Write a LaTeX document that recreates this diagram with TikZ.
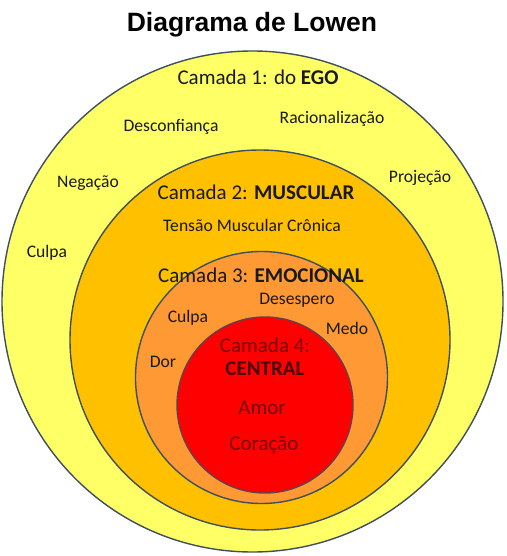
\documentclass[tikz,border=0pt]{standalone}
\usepackage{fontspec}
\setmainfont{Carlito}
\newfontfamily\titlefont{Liberation Sans}
\definecolor{cyel}{HTML}{FFFF66}
\definecolor{corg}{HTML}{FFC000}
\definecolor{cora}{HTML}{FF9933}
\definecolor{cred}{HTML}{FF0000}
\definecolor{cline}{HTML}{3E4F5E}
\definecolor{cdred}{HTML}{780000}
\tikzset{
  ring/.style={draw=cline, line width=1.4pt},
  lbl/.style={font=\fontsize{17.6}{19}\selectfont, text=black!90, inner sep=0pt},
  head/.style={font=\fontsize{21}{23}\selectfont, text=black!90, inner sep=0pt},
  core/.style={font=\fontsize{21}{23}\selectfont, text=cdred, inner sep=0pt}
}
\begin{document}
\begin{tikzpicture}[x=1pt,y=-1pt]
\useasboundingbox[fill=white] (0,0) rectangle (506,556);
\node[font=\titlefont\bfseries\fontsize{26.5}{28}\selectfont, inner sep=0pt] (title) at (252,25) {Diagrama de Lowen};
\node[ring, fill=cyel, circle, minimum size=501pt, inner sep=0pt] (c1) at (252.5,301.5) {};
\node[ring, fill=corg, circle, minimum size=380pt, inner sep=0pt] (c2) at (260,340) {};
\node[ring, fill=cora, circle, minimum size=252pt, inner sep=0pt] (c3) at (261.5,377.5) {};
\node[ring, draw=cline!80!red, fill=cred, circle, minimum size=176pt, inner sep=0pt] (c4) at (265,405) {};
% layer 1
\node[head] (h1) at (258,77) {Camada 1: do \textbf{EGO}};
\node[lbl] (l1a) at (171,127) {Desconfiança};
\node[lbl] (l1b) at (332,119) {Racionalização};
\node[lbl] (l1c) at (88,183) {Negação};
\node[lbl] (l1d) at (420,178) {Projeção};
\node[lbl] (l1e) at (47,253) {Culpa};
% layer 2
\node[head] (h2) at (256,192) {Camada 2: \textbf{MUSCULAR}};
\node[lbl] (l2a) at (252,225) {Tensão Muscular Crônica};
% layer 3
\node[head] (h3) at (261,275) {Camada 3: \textbf{EMOCIONAL}};
\node[lbl] (l3a) at (297,300) {Desespero};
\node[lbl] (l3b) at (188,318) {Culpa};
\node[lbl] (l3c) at (347,328) {Medo};
\node[lbl] (l3d) at (163,362) {Dor};
% layer 4
\node[core] (h4) at (265,345) {Camada 4:};
\node[core, text=cdred!60!black] (h4b) at (265,369) {\textbf{CENTRAL}};
\node[core] (l4a) at (262,408) {Amor};
\node[core] (l4b) at (264,445) {Coração};
\end{tikzpicture}
\end{document}
